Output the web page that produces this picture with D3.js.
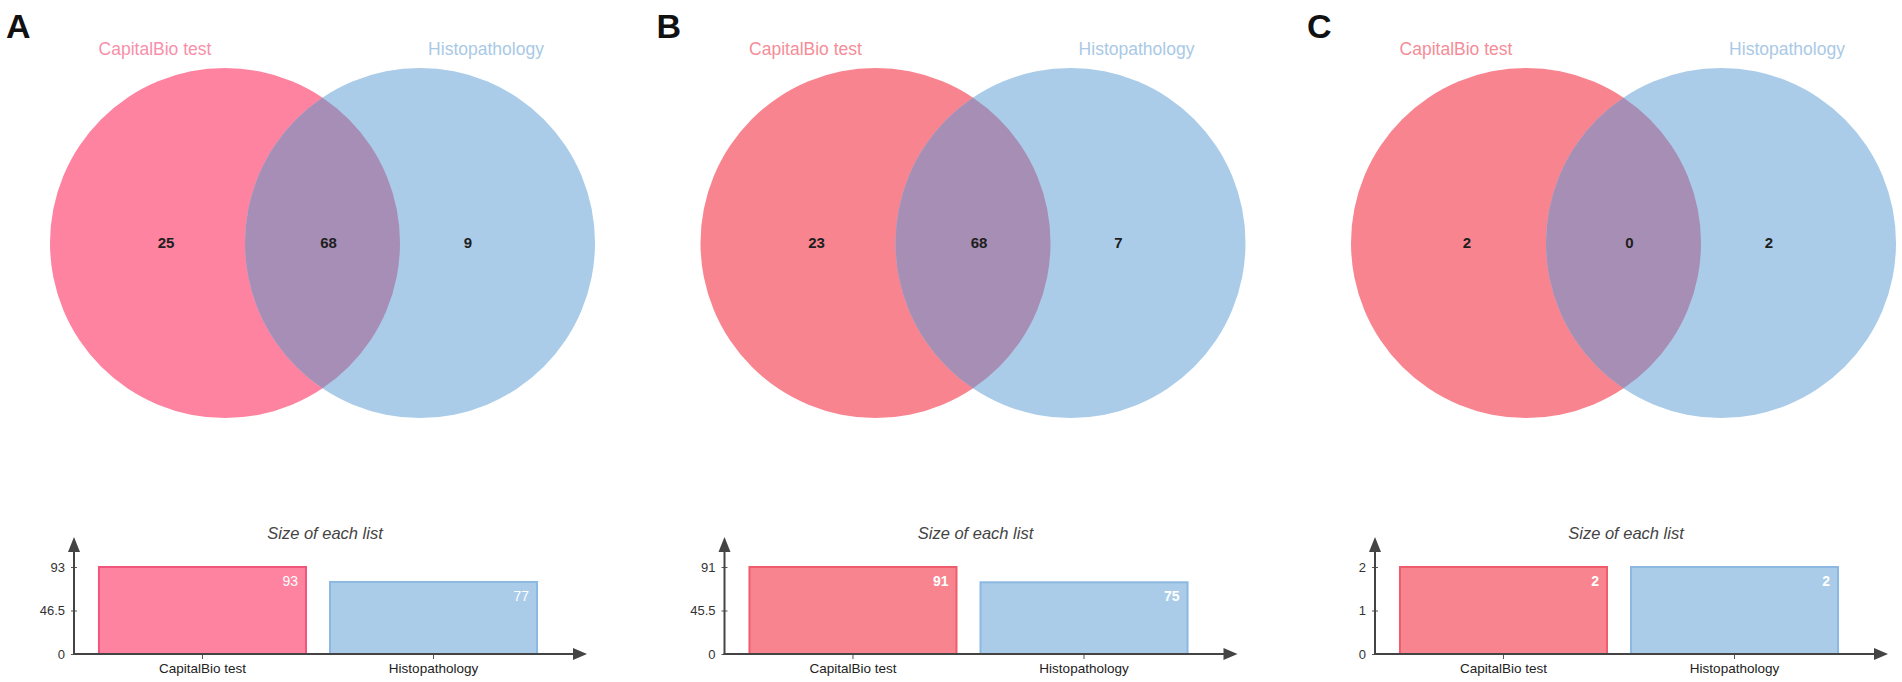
<!DOCTYPE html>
<html><head><meta charset="utf-8">
<script src="https://cdn.jsdelivr.net/npm/d3@7"></script>
<style>html,body{margin:0;padding:0;background:#fff;}svg{display:block;font-family:"Liberation Sans",Arial,sans-serif;}</style>
</head><body>
<svg id="c" width="1902" height="682"></svg>
<script>
const panelLetters = ["A", "B", "C"];
const setNames = ["CapitalBio test", "Histopathology"];
const onlyLeft = [25, 23, 2];
const shared = [68, 68, 0];
const onlyRight = [9, 7, 2];
const leftSizes = [93, 91, 2];
const rightSizes = [77, 75, 2];
const yTicks = [[0, 46.5, 93], [0, 45.5, 91], [0, 1, 2]];
const chartTitle = "Size of each list";

const leftFill = ["#fe83a0", "#f8848f", "#f8848f"];
const leftStroke = ["#f0557c", "#ef5c6c", "#ef5c6c"];
const rightFill = "#aacce9";
const rightStroke = "#8cb8e2";
const overlapFill = ["#a78eb7", "#a68eb4", "#a68eb4"];
const leftLabelFill = ["#f88fab", "#f58d98", "#f58d98"];
const rightLabelFill = "#a9c9e6";
const valueWeight = ["normal", "bold", "bold"];

const svg = d3.select("#c");
const defs = svg.append("defs");
const PANEL_DX = 650.5;
const R = 175, CY = 243, CXL = 225, CXR = 420;

panelLetters.forEach((letter, i) => {
  const g = svg.append("g").attr("transform", `translate(${i * PANEL_DX},0)`);
  g.append("text").attr("x", 6).attr("y", 38).attr("font-size", 34).attr("font-weight", "bold")
    .attr("fill", "#111").text(letter);

  const circles = [
    {cx: CXL, fill: leftFill[i]},
    {cx: CXR, fill: rightFill}
  ];
  g.selectAll("circle.set").data(circles).join("circle").attr("class", "set")
    .attr("cx", d => d.cx).attr("cy", CY).attr("r", R).attr("fill", d => d.fill);
  const clipId = "clip" + i;
  defs.append("clipPath").attr("id", clipId).append("circle")
    .attr("cx", CXL + i * PANEL_DX).attr("cy", CY).attr("r", R);
  svg.append("circle").attr("clip-path", `url(#${clipId})`)
    .attr("cx", CXR + i * PANEL_DX).attr("cy", CY).attr("r", R).attr("fill", overlapFill[i]);

  const gl = svg.append("g").attr("transform", `translate(${i * PANEL_DX},0)`);
  gl.append("text").attr("x", CXL - 70).attr("y", 55).attr("text-anchor", "middle")
    .attr("font-size", 17.5).attr("fill", leftLabelFill[i]).text(setNames[0]);
  gl.append("text").attr("x", CXR + 66).attr("y", 55).attr("text-anchor", "middle")
    .attr("font-size", 17.5).attr("fill", rightLabelFill).text(setNames[1]);
  const counts = [
    {x: CXL - 59, v: onlyLeft[i]},
    {x: (CXL + CXR) / 2 + 6, v: shared[i]},
    {x: CXR + 48, v: onlyRight[i]}
  ];
  gl.selectAll("text.cnt").data(counts).join("text").attr("class", "cnt")
    .attr("x", d => d.x).attr("y", CY + 5).attr("text-anchor", "middle")
    .attr("font-size", 15).attr("font-weight", "bold").attr("fill", "#1e1e1e")
    .text(d => d.v);

  // Bar chart
  const bg = gl.append("g");
  const x0 = 74, base = 654;
  const maxV = Math.max(leftSizes[i], rightSizes[i]);
  const y = d3.scaleLinear().domain([0, maxV]).range([base, 567]);
  const x = d3.scaleBand().domain(setNames).range([x0, 562]).paddingInner(0.104).paddingOuter(0.108);
  const bars = [
    {name: setNames[0], v: leftSizes[i], fill: leftFill[i], stroke: leftStroke[i]},
    {name: setNames[1], v: rightSizes[i], fill: rightFill, stroke: rightStroke}
  ];
  bg.selectAll("rect").data(bars).join("rect")
    .attr("x", d => x(d.name)).attr("width", x.bandwidth())
    .attr("y", d => y(d.v)).attr("height", d => base - y(d.v))
    .attr("fill", d => d.fill).attr("stroke", d => d.stroke).attr("stroke-width", 2);
  bg.selectAll("text.val").data(bars).join("text").attr("class", "val")
    .attr("x", d => x(d.name) + x.bandwidth() - 8).attr("y", d => y(d.v) + 19)
    .attr("text-anchor", "end").attr("font-size", 14).attr("font-weight", valueWeight[i])
    .attr("fill", "#fff").text(d => d.v);

  const yAxis = d3.axisLeft(y).tickValues(yTicks[i]).tickSize(4).tickPadding(5).tickFormat(d3.format("~g"));
  const ya = bg.append("g").attr("transform", `translate(${x0},0)`).call(yAxis);
  ya.select(".domain").remove();
  ya.selectAll(".tick line").attr("stroke", "#555").attr("x2", 3).attr("x1", -3);
  ya.selectAll(".tick text").attr("font-size", 13).attr("fill", "#333").attr("font-family", "Liberation Sans, Arial, sans-serif");
  const xAxis = d3.axisBottom(x).tickSize(5).tickPadding(4);
  const xa = bg.append("g").attr("transform", `translate(0,${base})`).call(xAxis);
  xa.select(".domain").remove();
  xa.selectAll(".tick line").attr("stroke", "#555");
  xa.selectAll(".tick text").attr("font-size", 13.5).attr("fill", "#222").attr("font-family", "Liberation Sans, Arial, sans-serif");

  bg.append("line").attr("x1", x0).attr("x2", x0).attr("y1", base + 1).attr("y2", 550)
    .attr("stroke", "#444").attr("stroke-width", 2);
  bg.append("path").attr("d", `M${x0},537 L${x0 - 6},552 L${x0 + 6},552 Z`).attr("fill", "#444");
  bg.append("line").attr("x1", x0 - 1).attr("x2", 575).attr("y1", base).attr("y2", base)
    .attr("stroke", "#444").attr("stroke-width", 2);
  bg.append("path").attr("d", `M587,${base} L573,${base - 6} L573,${base + 6} Z`).attr("fill", "#444");

  bg.append("text").attr("x", 325).attr("y", 539).attr("text-anchor", "middle")
    .attr("font-size", 16.5).attr("font-style", "italic").attr("fill", "#444").text(chartTitle);
});
</script>
</body></html>
